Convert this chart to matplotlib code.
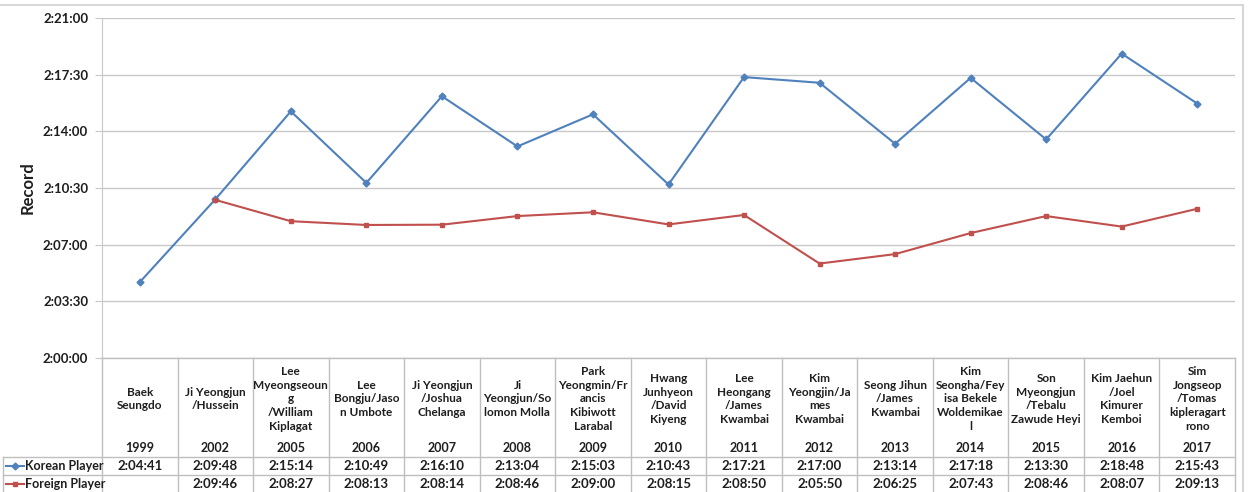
import matplotlib.pyplot as plt
from matplotlib.lines import Line2D
from matplotlib.transforms import blended_transform_factory
from matplotlib.ticker import FixedLocator, FuncFormatter

plt.rcParams['font.family'] = ['Lato', 'DejaVu Sans']
plt.rcParams['font.weight'] = 'bold'
plt.rcParams['axes.labelweight'] = 'bold'

years = ['1999', '2002', '2005', '2006', '2007', '2008', '2009', '2010',
         '2011', '2012', '2013', '2014', '2015', '2016', '2017']
names = [
    "Baek\nSeungdo",
    "Ji Yeongjun\n/Hussein",
    "Lee\nMyeongseoun\ng\n/William\nKiplagat",
    "Lee\nBongju/Jaso\nn Umbote",
    "Ji Yeongjun\n/Joshua\nChelanga",
    "Ji\nYeongjun/So\nlomon Molla",
    "Park\nYeongmin/Fr\nancis\nKibiwott\nLarabal",
    "Hwang\nJunhyeon\n/David\nKiyeng",
    "Lee\nHeongang\n/James\nKwambai",
    "Kim\nYeongjin/Ja\nmes\nKwambai",
    "Seong Jihun\n/James\nKwambai",
    "Kim\nSeongha/Fey\nisa Bekele\nWoldemikae\nl",
    "Son\nMyeongjun\n/Tebalu\nZawude Heyi",
    "Kim Jaehun\n/Joel\nKimurer\nKemboi",
    "Sim\nJongseop\n/Tomas\nkipleragart\nrono",
]
korean = ['2:04:41', '2:09:48', '2:15:14', '2:10:49', '2:16:10', '2:13:04', '2:15:03', '2:10:43',
          '2:17:21', '2:17:00', '2:13:14', '2:17:18', '2:13:30', '2:18:48', '2:15:43']
foreign = [None, '2:09:46', '2:08:27', '2:08:13', '2:08:14', '2:08:46', '2:09:00', '2:08:15',
           '2:08:50', '2:05:50', '2:06:25', '2:07:43', '2:08:46', '2:08:07', '2:09:13']
y_ticks = ['2:00:00', '2:03:30', '2:07:00', '2:10:30', '2:14:00', '2:17:30', '2:21:00']


def to_sec(t):
    h, m, s = t.split(':')
    return int(h) * 3600 + int(m) * 60 + int(s)


W, H = 1252, 492
BLUE = '#4F81BD'
RED = '#C0504D'
GRID = '#C8C8C8'
TXT = '#1e1e1e'

fig = plt.figure(figsize=(W / 100, H / 100), dpi=100)
ax = fig.add_axes([102 / W, 1 - 358 / H, (1235 - 102) / W, (358 - 18) / H])

xs = list(range(len(years)))
k_vals = [to_sec(t) for t in korean]
f_x = [i for i, t in zip(xs, foreign) if t]
f_vals = [to_sec(t) for t in foreign if t]

ax.plot(xs, k_vals, color=BLUE, lw=1.5, marker='D', ms=3.5, label='Korean Player')
ax.plot(f_x, f_vals, color=RED, lw=1.5, marker='s', ms=3.5, label='Foreign Player')

tick_secs = [to_sec(t) for t in y_ticks]
ax.set_xlim(-0.5, len(years) - 0.5)
ax.set_ylim(tick_secs[0], tick_secs[-1])
ax.yaxis.set_major_locator(FixedLocator(tick_secs))
ax.yaxis.set_major_formatter(FuncFormatter(
    lambda v, p: f"{int(v) // 3600}:{int(v) % 3600 // 60:02d}:{int(v) % 60:02d}"))
ax.grid(axis='y', color=GRID, lw=1)
ax.set_axisbelow(True)
ax.set_xticks([])
ax.tick_params(axis='y', length=5, color=GRID, labelsize=9.5, labelcolor=TXT, pad=5)
for lbl in ax.get_yticklabels():
    lbl.set_fontweight('bold')
for s in ['top', 'right', 'bottom']:
    ax.spines[s].set_visible(False)
ax.spines['left'].set_color(GRID)
ax.set_ylabel('Record', fontsize=12, color=TXT, labelpad=5, fontweight='bold')

# data table under the plot
tr = blended_transform_factory(ax.transData, ax.transAxes)


def ay(py):
    return (358 - py) / 340


def fx(px):
    return px / W


def fy(py):
    return 1 - py / H


lc = '#BFBFBF'
fig.add_artist(Line2D([102 / W, 1235 / W], [fy(358), fy(358)], color=lc, lw=1))
for i in range(len(years) + 1):
    xb = i - 0.5
    ax.add_line(Line2D([xb, xb], [ay(358), ay(494)], transform=tr, color=lc, lw=1, clip_on=False))
for py in [457, 475, 493]:
    fig.add_artist(Line2D([fx(3), fx(1235)], [fy(py), fy(py)], color=lc, lw=1))
fig.add_artist(Line2D([fx(3), fx(3)], [fy(457), fy(493)], color=lc, lw=1))

fs = 8.5
for i in xs:
    ax.text(i, ay(399), names[i], transform=tr, ha='center', va='center', fontsize=fs,
            color=TXT, linespacing=1.28, clip_on=False, fontweight='bold')
    ax.text(i, ay(448), years[i], transform=tr, ha='center', va='center', fontsize=9,
            color=TXT, clip_on=False, fontweight='bold')
    ax.text(i, ay(466), korean[i], transform=tr, ha='center', va='center', fontsize=9.5,
            color=TXT, clip_on=False, fontweight='bold')
    if foreign[i]:
        ax.text(i, ay(484), foreign[i], transform=tr, ha='center', va='center', fontsize=9.5,
                color=TXT, clip_on=False, fontweight='bold')

# legend keys inside the table
for py, col, mk, lab in [(466, BLUE, 'D', 'Korean Player'), (484, RED, 's', 'Foreign Player')]:
    fig.add_artist(Line2D([fx(6), fx(24)], [fy(py), fy(py)], color=col, lw=1.5))
    fig.add_artist(Line2D([fx(15)], [fy(py)], color=col, marker=mk, ms=3.5))
    fig.text(fx(25), fy(py), lab, ha='left', va='center', fontsize=9, color=TXT, fontweight='bold')

# chart frame
fig.add_artist(Line2D([0, fx(1243)], [fy(5), fy(5)], color='#D0D0D0', lw=1.2))
fig.add_artist(Line2D([fx(1243), fx(1243)], [fy(5), 0], color='#D0D0D0', lw=1.2))

fig.savefig('out.png', dpi=100)
